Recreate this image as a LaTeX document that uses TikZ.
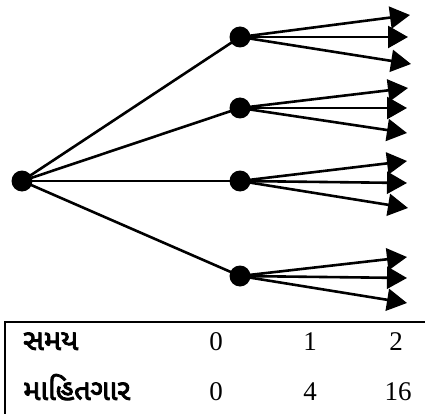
\documentclass[tikz,border=0pt]{standalone}
\usepackage{fontspec}
\setmainfont{Liberation Serif}
\newfontfamily\guj[Script=Gujarati,FakeBold=3]{Noto Sans Gujarati UI}
\usetikzlibrary{arrows.meta}
\begin{document}
\begin{tikzpicture}[x=1pt,y=-1pt,
  dot/.style={circle,fill=black,inner sep=0pt,minimum size=21pt},
  edge/.style={line width=2.6pt},
  leaf/.style={line width=2.6pt,-{Triangle[length=20pt,width=22pt]}},
  gtext/.style={anchor=base west,inner sep=0pt,font=\guj\fontsize{29}{32}\selectfont},
  num/.style={anchor=base,inner sep=0pt,font=\fontsize{27}{30}\selectfont}]
\useasboundingbox (0,0) rectangle (425,414);
\node[dot] (r) at (22,181) {};
\node[dot] (a) at (240,37) {};
\node[dot] (b) at (240,108) {};
\node[dot] (c) at (240,181) {};
\node[dot] (d) at (240,276) {};
\foreach \n in {a,b,c,d} \draw[edge] (r.center) -- (\n.center);
\coordinate (a1) at (410,15); \coordinate (a2) at (408,37); \coordinate (a3) at (411,64);
\coordinate (b1) at (408,88); \coordinate (b2) at (407,108); \coordinate (b3) at (407,133);
\coordinate (c1) at (407,161); \coordinate (c2) at (407,183); \coordinate (c3) at (408,208);
\coordinate (d1) at (407,257); \coordinate (d2) at (407,278); \coordinate (d3) at (407,303);
\foreach \n in {a,b,c,d} \foreach \i in {1,2,3} \draw[leaf] (\n.center) -- (\n\i);
\coordinate (tl) at (5,322);
\coordinate (tr) at (425,322);
\coordinate (bl) at (5,414);
\draw[line width=2.6pt] (tr) -- (tl) -- (bl);
\node[gtext] (s) at (23,350) {સમય};
\node[gtext] (m) at (23,400) {માહિતગાર};
\node[num] (s0) at (216,350) {0};
\node[num] (s1) at (310,350) {1};
\node[num] (s2) at (396,350) {2};
\node[num] (m0) at (216,400) {0};
\node[num] (m1) at (310,400) {4};
\node[num] (m2) at (398,400) {16};
\end{tikzpicture}
\end{document}
